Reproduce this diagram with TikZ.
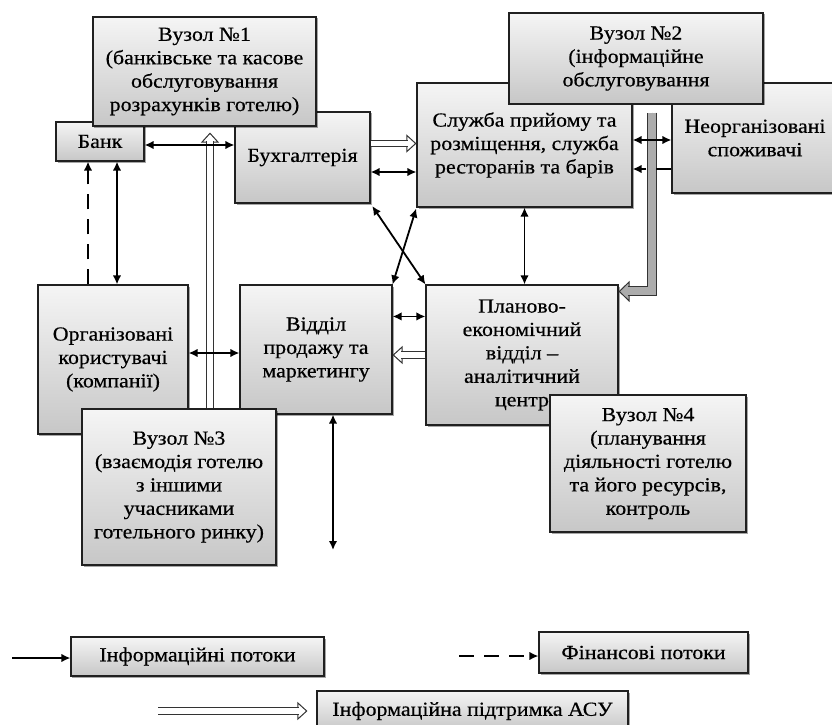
\documentclass[tikz,border=0pt]{standalone}
\usepackage{fontspec}
\setmainfont{Liberation Serif}[FakeStretch=1.1, FakeBold=0.5]
\usetikzlibrary{arrows.meta,shadows}

\tikzset{
  kin/.tip={Latex[length=9bp,width=8.5bp]},
  blok/.style={draw=gray!25!black, line width=1.1bp, top color=gray!8, bottom color=gray!44,
    align=center, inner sep=1bp, text=black, font=\fontsize{20}{23.5}\selectfont,
    drop shadow={shadow xshift=1.5bp, shadow yshift=-1.5bp, opacity=0.35, fill=black}},
  potik/.style={line width=1.8bp, {kin}-{kin}},
  potik1/.style={line width=1.8bp, -{kin}},
  fin/.style={line width=2bp, dash pattern=on 15bp off 10bp, -{kin}},
  % hollow arrows: thin line with the head first, then the double shaft over it
  asutip/.style={draw=gray!40!black, line width=1bp, -{Triangle[open, fill=white, length=10bp, width=18bp]}},
  asu/.style={draw=gray!40!black, line width=1bp, double=white, double distance=5.5bp, shorten >=8.5bp},
  siratip/.style={draw=gray!40!black, line width=1bp, -{Triangle[open, fill=gray!65, length=11bp, width=21bp]}},
  sira/.style={draw=gray!40!black, line width=1bp, double=gray!65, double distance=8bp, shorten >=9.5bp}
}

\begin{document}
\begin{tikzpicture}[x=1bp, y=-1bp]
  \useasboundingbox (0,0) rectangle (832,725);
  \clip (0,0) rectangle (832,725);

  % pidrozdily
  \node[blok, minimum width=88bp, minimum height=39bp] (bank) at (100,141.5) {Банк};
  \node[blok, minimum width=135bp, minimum height=91bp] (buh) at (302.5,157.5) {Бухгалтерія};
  \node[blok, minimum width=215bp, minimum height=124bp] (sluzhba) at (524.5,145)
    {Служба прийому та\\розміщення, служба\\ресторанів та барів};
  \node[blok, minimum width=166bp, minimum height=110bp] (neorg) at (755,138)
    {Неорганізовані\\споживачі};
  \node[blok, minimum width=150bp, minimum height=149bp] (org) at (113,359.5)
    {Організовані\\користувачі\\(компанії)};
  \node[blok, minimum width=152bp, minimum height=129bp] (prodazh) at (316,349.5)
    {Відділ\\продажу та\\маркетингу};
  \node[blok, minimum width=192bp, minimum height=140bp] (plan) at (522,355)
    {Планово-\\економічний\\відділ –\\аналітичний\\центр};

  % vuzly
  \node[blok, minimum width=223bp, minimum height=109bp] (vuz1) at (204.5,71.5)
    {Вузол №1\\(банківське та касове\\обслуговування\\розрахунків готелю)};
  \node[blok, minimum width=254bp, minimum height=91bp] (vuz2) at (636,58.5)
    {Вузол №2\\(інформаційне\\обслуговування};
  \node[blok, minimum width=194bp, minimum height=156bp] (vuz3) at (179,487)
    {Вузол №3\\(взаємодія готелю\\з іншими\\учасниками\\готельного ринку)};
  \node[blok, minimum width=196bp, minimum height=137bp] (vuz4) at (648,463.5)
    {Вузол №4\\(планування\\діяльності готелю\\та його ресурсів,\\контроль};

  % legenda
  \node[blok, minimum width=253bp, minimum height=39bp] (leg1) at (197.5,656.5) {Інформаційні потоки};
  \node[blok, minimum width=209bp, minimum height=41bp] (leg2) at (643.5,652.5) {Фінансові потоки};
  \node[blok, minimum width=311bp, minimum height=40bp] (leg3) at (472.5,711) {Інформаційна підтримка АСУ};

  % pidtrymka ASU
  \draw[asutip] ([yshift=14bp]buh.east) -- ([yshift=14bp]buh.east -| sluzhba.west);
  \draw[asu] ([yshift=14bp]buh.east) -- ([yshift=14bp]buh.east -| sluzhba.west);
  \draw[asutip] (plan.west) -- (plan.west -| prodazh.east);
  \draw[asu] (plan.west) -- (plan.west -| prodazh.east);
  \draw[asutip, shorten >=6bp] ([xshift=31bp]vuz3.north) -- ([xshift=31bp]vuz3.north |- vuz1.south);
  \draw[asu, shorten >=14.5bp] ([xshift=31bp]vuz3.north) -- ([xshift=31bp]vuz3.north |- vuz1.south);
  \draw[siratip] ([xshift=16bp,yshift=-8bp]vuz2.south) |- ([yshift=-7bp]plan.north east);
  \draw[sira] ([xshift=16bp,yshift=-8bp]vuz2.south) |- ([yshift=-7bp]plan.north east);

  % informatsiini ta finansovi potoky
  \draw[potik] ([yshift=-3.5bp]bank.east) -- ([yshift=-3.5bp]bank.east -| buh.west);
  \draw[potik] ([xshift=17bp]bank.south) -- ([xshift=17bp]bank.south |- org.north);
  \draw[fin] ([xshift=-12bp]bank.south |- org.north) -- ([xshift=-12bp]bank.south);
  \draw[potik] ([yshift=-14.5bp]buh.east) -- ([yshift=-14.5bp]buh.east -| sluzhba.west);
  \draw[potik, shorten <=3bp] (buh.south east) -- (plan.north west);
  \draw[potik, shorten <=1bp] (sluzhba.south west) -- (prodazh.north east);
  \draw[potik] (sluzhba.south) -- (sluzhba.south |- plan.north);
  \draw[potik] ([yshift=-2bp]neorg.west -| sluzhba.east) -- ([yshift=-2bp]neorg.west);
  \draw[fin] ([yshift=-31bp]neorg.west) -- ([yshift=-31bp]neorg.west -| sluzhba.east);
  \draw[potik] ([yshift=-3.5bp]prodazh.west -| org.east) -- ([yshift=-3.5bp]prodazh.west);
  \draw[potik] ([yshift=-32bp]prodazh.north east) -- ([yshift=-32bp]prodazh.north east -| plan.west);
  \coordinate (zovni) at (333,550);
  \draw[potik] ([xshift=17bp]prodazh.south) -- (zovni);

  % strilky legendy
  \coordinate (l1) at (12,658);
  \coordinate (l2) at (459,656);
  \coordinate (l3) at (158,711);
  \draw[potik1] (l1) -- (l1 -| leg1.west);
  \draw[fin] (l2) -- (l2 -| leg2.west);
  \draw[asutip, shorten >=9bp] (l3) -- (l3 -| leg3.west);
  \draw[asu, shorten >=17.5bp] (l3) -- (l3 -| leg3.west);
\end{tikzpicture}
\end{document}
